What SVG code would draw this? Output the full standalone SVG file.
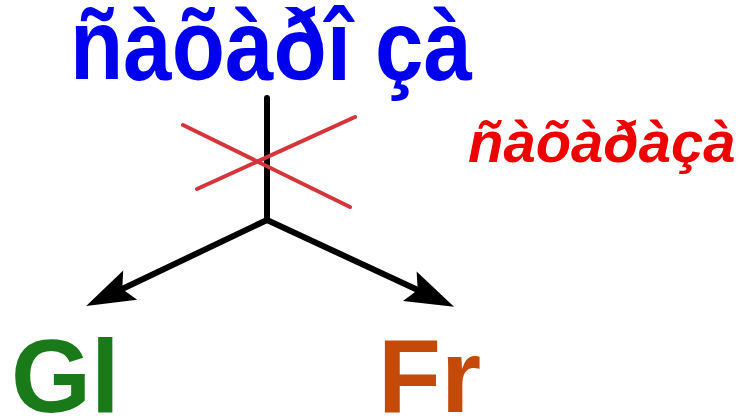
<svg xmlns="http://www.w3.org/2000/svg" width="747" height="416" viewBox="0 0 747 416">
<defs>
<style>
.t{font-family:"Liberation Sans",Arial,sans-serif;font-weight:bold}
.blk{stroke:#000;stroke-width:6;fill:none;stroke-linecap:round;stroke-linejoin:round}
.red{stroke:#d6333a;stroke-width:4;stroke-linecap:round}
</style>
<marker id="ah" markerUnits="userSpaceOnUse" markerWidth="60" markerHeight="40" viewBox="-12 -16 48 32" refX="0" refY="0" orient="auto" overflow="visible">
<path d="M-9,-13 L30,0 L-9,13 L-2,0 Z" fill="#000"/>
</marker>
</defs>
<rect width="747" height="416" fill="#fff"/>
<g id="title"><text class="t" x="70" y="80" font-size="100" fill="#0000ee" textLength="402" lengthAdjust="spacingAndGlyphs">ñàõàðî çà</text></g>
<g id="label-red"><text class="t" x="468" y="162" font-size="58" font-style="italic" fill="#ee0000">ñàõàðàçà</text></g>
<g id="gl"><text class="t" x="11" y="412" font-size="103" fill="#1a7a1a">Gl</text></g>
<g id="fr"><text class="t" x="378" y="412" font-size="103" fill="#c44a0a">Fr</text></g>
<g id="connectors">
<path class="blk" d="M267,98 L267,220"/>
<path class="blk" d="M267,220 L120,290" marker-end="url(#ah)"/>
<path class="blk" d="M267,220 L420,291" marker-end="url(#ah)"/>
<line class="red" x1="183" y1="125" x2="350" y2="207"/>
<line class="red" x1="197" y1="189" x2="355" y2="117"/>
</g>
</svg>
